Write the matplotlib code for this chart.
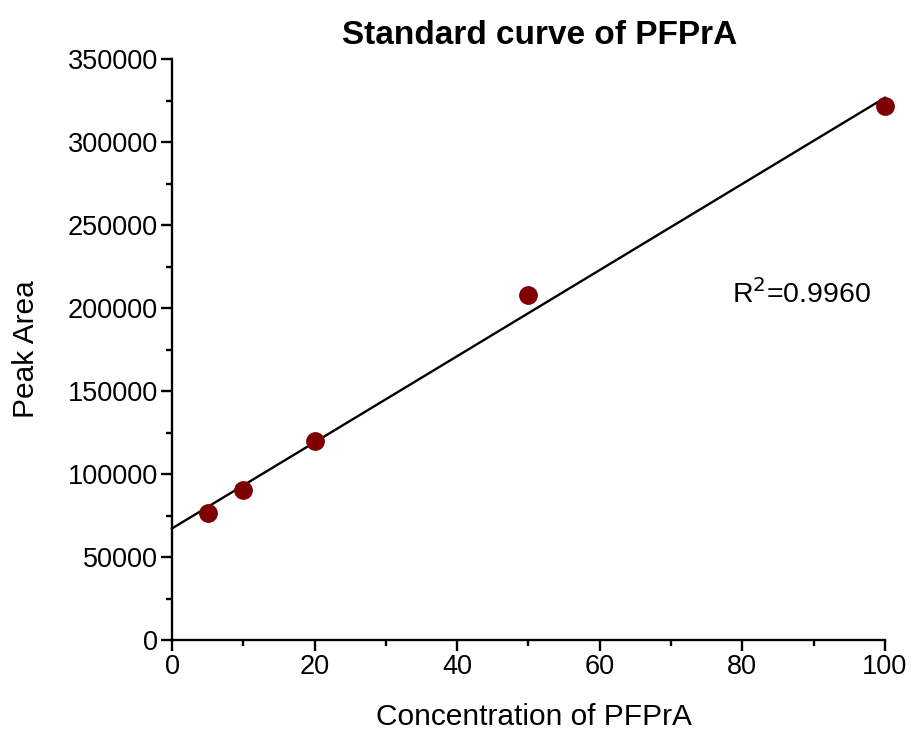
import numpy as np
import matplotlib
matplotlib.use("Agg")
import matplotlib.pyplot as plt
from matplotlib.ticker import MultipleLocator

plt.rcParams['font.family'] = ['Liberation Sans', 'DejaVu Sans']

concentration = [5, 10, 20, 50, 100]
peak_area = [76500, 90400, 119900, 207800, 321700]
title = "Standard curve of PFPrA"
xlabel = "Concentration of PFPrA"
ylabel = "Peak Area"
r2_text = r"R$^2$=0.9960"

fig = plt.figure(figsize=(9.17, 7.31), dpi=100)
ax = fig.add_axes([0.1876, 0.1245, 0.7774, 0.7945])

slope, intercept = np.polyfit(concentration, peak_area, 1)
xl = np.array([0, 100])
ax.plot(xl, slope * xl + intercept, color='black', lw=1.7, zorder=2, clip_on=False)
ax.plot(concentration, peak_area, 'o', color='#7f0000', ms=12.5, zorder=3, clip_on=False)

ax.set_xlim(0, 100)
ax.set_ylim(0, 350000)
ax.xaxis.set_major_locator(MultipleLocator(20))
ax.xaxis.set_minor_locator(MultipleLocator(10))
ax.yaxis.set_major_locator(MultipleLocator(50000))
ax.yaxis.set_minor_locator(MultipleLocator(25000))
for s in ['top', 'right']:
    ax.spines[s].set_visible(False)
for s in ['left', 'bottom']:
    ax.spines[s].set_linewidth(1.7)
ax.tick_params(which='major', direction='out', length=8, width=1.7, labelsize=19.5, pad=2)
ax.tick_params(which='minor', direction='out', length=4.5, width=1.7)

ax.set_title(title, fontsize=24, fontweight='bold', pad=11, x=0.516)
ax.set_xlabel(xlabel, fontsize=21.5)
ax.xaxis.set_label_coords(0.508, -0.132, transform=ax.transAxes)
ax.xaxis.label.set_va('center')
ax.set_ylabel(ylabel, fontsize=21.5, labelpad=20)
ax.text(78.5, 203000, r2_text, fontsize=20.5, ha='left', va='baseline')

fig.savefig("out.png", dpi=100)
